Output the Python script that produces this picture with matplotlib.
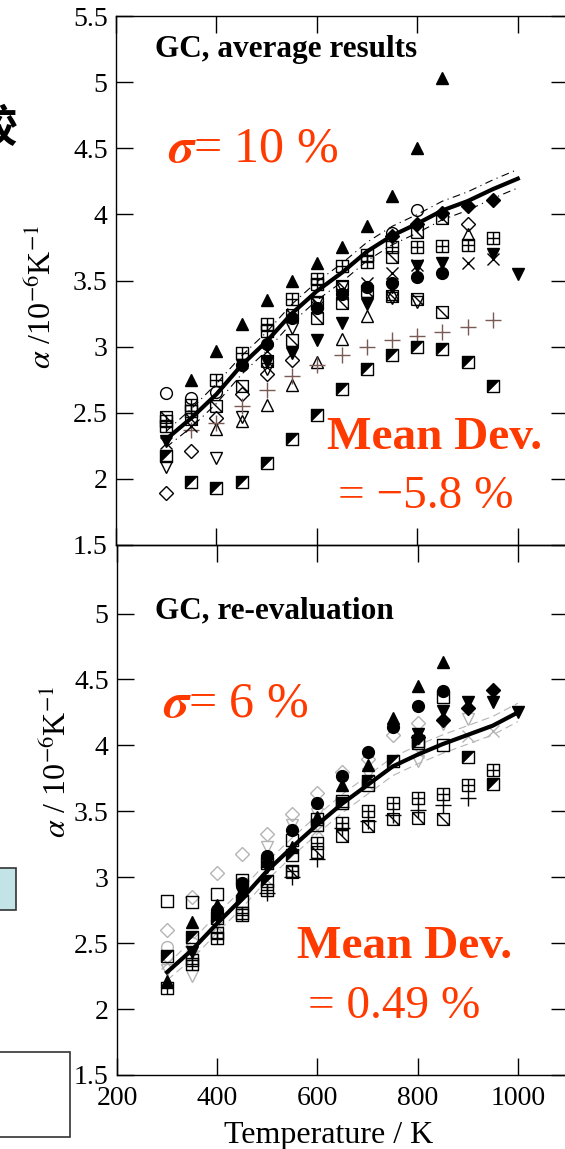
import numpy as np
import matplotlib
matplotlib.use('Agg')
import matplotlib.pyplot as plt
from matplotlib.path import Path
from matplotlib.patches import Rectangle

plt.rcParams['font.family'] = ['Liberation Serif', 'DejaVu Serif']
plt.rcParams['mathtext.fontset'] = 'stix'

RED = '#ff3a00'
BROWN = '#7a5a55'
GRAY = '#b4b4b4'

# ---------------- 上图：GC, average results ----------------
T_line = [300, 350, 400, 450, 500, 550, 600, 650, 700, 750, 800, 850, 900, 950, 1000]
a_line = [2.30, 2.46, 2.64, 2.86, 3.04, 3.25, 3.42, 3.56, 3.72, 3.84, 3.93, 4.03, 4.10, 4.19, 4.27]
a_upper = [2.36, 2.53, 2.72, 2.93, 3.11, 3.32, 3.49, 3.63, 3.79, 3.91, 4.00, 4.10, 4.17, 4.26, 4.34]
a_lower = [2.24, 2.39, 2.57, 2.79, 2.97, 3.18, 3.35, 3.49, 3.65, 3.77, 3.86, 3.96, 4.03, 4.12, 4.20]

a_tri_T = [350, 400, 450, 500, 550, 600, 650, 700, 750, 800, 850]
a_tri = [2.75, 2.97, 3.17, 3.35, 3.50, 3.63, 3.75, 3.91, 4.14, 4.50, 5.03]
a_tridn_T = [300, 450, 500, 550, 600, 650, 700, 750, 800, 850, 950, 1000]
a_tridn = [2.29, 2.86, 2.88, 2.95, 3.05, 3.18, 3.32, 3.45, 3.61, 3.63, 3.70, 3.55]
a_circ_T = [450, 500, 550, 600, 650, 700, 750, 800, 850]
a_circ = [2.86, 3.02, 3.22, 3.29, 3.40, 3.45, 3.48, 3.53, 3.56]
a_ocirc_T = [300, 350, 400, 750, 800]
a_ocirc = [2.65, 2.61, 2.66, 3.86, 4.03]
a_dia_T = [750, 800, 850, 900, 950]
a_dia = [3.84, 3.93, 4.01, 4.06, 4.11]
a_odia_T = [300, 350, 400, 450, 500, 550, 900]
a_odia = [1.89, 2.21, 2.46, 2.64, 2.79, 2.90, 3.93]
a_sqc_T = [300, 350, 400, 450, 500, 550, 600, 650, 700, 750, 800, 850, 900, 950]
a_sqc = [2.40, 2.56, 2.75, 2.95, 3.17, 3.36, 3.51, 3.61, 3.69, 3.75, 3.75, 3.76, 3.77, 3.82]
a_sqc2_T = [300, 350, 500, 600, 700]
a_sqc2 = [2.44, 2.51, 3.12, 3.47, 3.64]
a_sqd_T = [300, 350, 400, 450, 500, 550, 600, 650, 700, 750, 800, 850]
a_sqd = [2.47, 2.45, 2.55, 2.70, 2.89, 3.05, 3.22, 3.33, 3.42, 3.38, 3.36, 3.26]
a_sqd2_T = [550, 600, 650, 750, 800, 850]
a_sqd2 = [3.24, 3.33, 3.46, 3.68, 3.87, 3.97]
a_otdn_T = [300, 400, 450, 500, 550, 600, 650, 750, 800]
a_otdn = [2.09, 2.16, 2.47, 2.83, 3.14, 3.34, 3.45, 3.37, 3.34]
a_otri_T = [400, 450, 500, 550, 600, 650, 700, 750, 900]
a_otri = [2.38, 2.44, 2.56, 2.71, 2.88, 3.06, 3.23, 3.40, 3.85]
a_plus_T = [350, 400, 450, 500, 550, 600, 650, 700, 750, 800, 850, 900, 950]
a_plus = [2.37, 2.42, 2.55, 2.67, 2.78, 2.86, 2.94, 3.00, 3.05, 3.08, 3.11, 3.15, 3.20]
a_x_T = [300, 350, 500, 600, 650, 700, 750, 800, 900, 950]
a_x = [2.27, 2.40, 2.97, 3.30, 3.40, 3.48, 3.56, 3.62, 3.63, 3.66]
a_half_T = [300, 350, 400, 450, 500, 550, 600, 650, 700, 750, 800, 850, 900, 950]
a_half = [2.17, 1.98, 1.93, 1.98, 2.12, 2.30, 2.48, 2.68, 2.83, 2.94, 3.00, 2.98, 2.88, 2.70]

# ---------------- 下图：GC, re-evaluation ----------------
b_line = [2.28, 2.45, 2.65, 2.84, 3.05, 3.23, 3.40, 3.56, 3.70, 3.84, 3.93, 4.01, 4.08, 4.15, 4.25]
b_upper = [2.34, 2.52, 2.72, 2.91, 3.12, 3.30, 3.47, 3.63, 3.77, 3.91, 4.00, 4.08, 4.15, 4.22, 4.32]
b_lower = [2.22, 2.38, 2.58, 2.77, 2.98, 3.16, 3.33, 3.49, 3.63, 3.77, 3.86, 3.94, 4.01, 4.08, 4.18]

b_tri_T = [300, 350, 400, 450, 500, 550, 600, 650, 700, 750, 800, 850]
b_tri = [2.21, 2.66, 2.79, 2.90, 3.12, 3.23, 3.46, 3.70, 3.85, 4.21, 4.45, 4.63]
b_circ_T = [400, 450, 500, 550, 600, 650, 700, 750, 800, 850]
b_circ = [2.75, 2.96, 3.16, 3.36, 3.56, 3.77, 3.95, 4.14, 4.30, 4.41]
b_tridn_T = [350, 400, 450, 500, 800, 850, 900, 950, 1000]
b_tridn = [2.43, 2.70, 2.88, 3.08, 4.09, 4.26, 4.33, 4.33, 4.25]
b_dia_T = [800, 850, 900, 950]
b_dia = [4.06, 4.19, 4.28, 4.42]
b_half_T = [300, 350, 400, 450, 500, 550, 600, 650, 700, 750, 800, 900, 950]
b_half = [2.40, 2.55, 2.69, 2.82, 2.97, 3.17, 3.40, 3.56, 3.73, 3.88, 4.02, 3.91, 3.71]
b_sq_T = [300, 350, 400, 450, 500, 550, 600, 650, 700, 800, 850, 850]
b_sq = [2.82, 2.81, 2.87, 2.98, 3.11, 3.28, 3.44, 3.58, 3.70, 4.03, 4.00, 4.37]
b_sqc_T = [300, 350, 400, 450, 500, 550, 600, 650, 700, 750, 800, 850, 900, 950]
b_sqc = [2.16, 2.34, 2.54, 2.73, 2.90, 3.05, 3.26, 3.41, 3.50, 3.56, 3.60, 3.63, 3.70, 3.81]
b_sqc2_T = [350, 400, 450]
b_sqc2 = [2.37, 2.58, 2.71]
b_sqd_T = [550, 600, 650, 700, 750, 800, 850]
b_sqd = [3.04, 3.19, 3.31, 3.39, 3.44, 3.45, 3.44]
b_plus_T = [500, 550, 600, 650, 700, 750, 800, 850, 900]
b_plus = [2.88, 3.00, 3.14, 3.37, 3.43, 3.47, 3.51, 3.55, 3.60]
b_gdia_T = [300, 350, 400, 450, 500, 550, 600, 650, 700, 750, 800]
b_gdia = [2.60, 2.85, 3.03, 3.18, 3.33, 3.48, 3.64, 3.80, 3.90, 4.08, 4.17]
b_gtdn_T = [300, 350, 450, 500, 550, 600, 700, 800, 850, 900]
b_gtdn = [2.30, 2.25, 2.95, 3.23, 3.40, 3.48, 3.78, 3.88, 4.16, 4.20]
b_gx_T = [300, 350, 400, 500, 600, 700, 800, 900, 950]
b_gx = [2.35, 2.40, 2.62, 2.98, 3.36, 3.70, 3.95, 4.07, 4.11]
b_gcirc_T = [300, 350]
b_gcirc = [2.47, 2.50]

y_ticks = [1.5, 2, 2.5, 3, 3.5, 4, 4.5, 5, 5.5]
x_ticks = [200, 400, 600, 800, 1000]


# 自定义方块符号
def square_with(segs):
    verts = [(-1, -1), (1, -1), (1, 1), (-1, 1), (-1, -1)]
    codes = [Path.MOVETO] + [Path.LINETO] * 4
    for a, b in segs:
        verts += [a, b]
        codes += [Path.MOVETO, Path.LINETO]
    return Path(verts, codes)


SQ_CROSS = square_with([((0, -1), (0, 1)), ((-1, 0), (1, 0))])
SQ_DIAG = square_with([((-1, 1), (1, -1))])
SQ_OPEN = square_with([])
HALF_TRI = Path([(-1, 1), (1, 1), (-1, -1), (-1, 1)],
                [Path.MOVETO, Path.LINETO, Path.LINETO, Path.CLOSEPOLY])

MS = 8.5
MEW = 1.0


def pts(ax, T, v, marker, filled=False, color='black', ms=MS, z=3):
    ax.plot(T, v, ls='none', marker=marker, ms=ms,
            mfc=color if filled else 'none', mec=color, mew=MEW, zorder=z)


def half_sq(ax, T, v):
    ax.plot(T, v, ls='none', marker=HALF_TRI, ms=MS, mfc='black', mec='black', mew=0.3, zorder=3)
    ax.plot(T, v, ls='none', marker=SQ_OPEN, ms=MS, mfc='none', mec='black', mew=MEW, zorder=3)


def style_axes(ax):
    ax.set_xlim(200, 1100)
    ax.set_xticks(x_ticks)
    ax.set_yticks(y_ticks)
    ax.tick_params(direction='in', length=12, width=1.0, labelsize=20,
                   top=True, right=True, pad=6)
    for s in ax.spines.values():
        s.set_linewidth(1.0)
    ax.set_facecolor('none')


fig = plt.figure(figsize=(5.65, 11.49), dpi=100)
W, H = 565, 1149


def fx(x):
    return x / W


def fy(y):
    return 1 - y / H


ax1 = fig.add_axes([fx(116), fy(545), (568 - 116) / W, 529 / H])
ax2 = fig.add_axes([fx(117), fy(1075), (568 - 117) / W, 530 / H])

# 上图
ax = ax1
ax.plot(T_line, a_upper, color='black', lw=0.8, ls=(0, (7, 4, 1, 4)), zorder=2)
ax.plot(T_line, a_lower, color='black', lw=0.8, ls=(0, (7, 4, 1, 4)), zorder=2)
ax.plot(T_line, a_line, color='black', lw=3.0, zorder=4)
pts(ax, a_tri_T, a_tri, '^', True)
pts(ax, a_tridn_T, a_tridn, 'v', True)
pts(ax, a_circ_T, a_circ, 'o', True)
pts(ax, a_ocirc_T, a_ocirc, 'o')
pts(ax, a_dia_T, a_dia, 'D', True, ms=7)
pts(ax, a_odia_T, a_odia, 'D', ms=7)
pts(ax, a_sqc_T, a_sqc, SQ_CROSS)
pts(ax, a_sqc2_T, a_sqc2, SQ_CROSS)
pts(ax, a_sqd_T, a_sqd, SQ_DIAG)
pts(ax, a_sqd2_T, a_sqd2, SQ_DIAG)
pts(ax, a_otdn_T, a_otdn, 'v')
pts(ax, a_otri_T, a_otri, '^')
pts(ax, a_plus_T, a_plus, '+', color=BROWN, ms=11)
pts(ax, a_x_T, a_x, 'x', ms=9)
half_sq(ax, a_half_T, a_half)
style_axes(ax)
ax.set_ylim(1.5, 5.5)
ax.set_yticklabels(['1.5', '2', '2.5', '3', '3.5', '4', '4.5', '5', '5.5'])
ax.tick_params(labelbottom=False)

# 下图
ax = ax2
ax.plot(T_line, b_upper, color=GRAY, lw=0.8, ls=(0, (7, 4)), zorder=2)
ax.plot(T_line, b_lower, color=GRAY, lw=0.8, ls=(0, (7, 4)), zorder=2)
pts(ax, b_gdia_T, b_gdia, 'D', color=GRAY, ms=7)
pts(ax, b_gtdn_T, b_gtdn, 'v', color=GRAY)
pts(ax, b_gx_T, b_gx, 'x', color=GRAY, ms=9)
pts(ax, b_gcirc_T, b_gcirc, 'o', color=GRAY)
ax.plot(T_line, b_line, color='black', lw=3.0, zorder=4)
pts(ax, b_tri_T, b_tri, '^', True)
pts(ax, b_circ_T, b_circ, 'o', True)
pts(ax, b_tridn_T, b_tridn, 'v', True, z=5)
pts(ax, b_dia_T, b_dia, 'D', True, ms=7)
half_sq(ax, b_half_T, b_half)
pts(ax, b_sq_T, b_sq, SQ_OPEN)
pts(ax, b_sqc_T, b_sqc, SQ_CROSS)
pts(ax, b_sqc2_T, b_sqc2, SQ_CROSS)
pts(ax, b_sqd_T, b_sqd, SQ_DIAG)
pts(ax, b_plus_T, b_plus, '+', ms=11)
style_axes(ax)
ax.set_ylim(1.5, 5.52)
ax.set_yticks(y_ticks[:-1])
ax.set_yticklabels(['1.5', '2', '2.5', '3', '3.5', '4', '4.5', '5'])
ax.set_xticklabels(['200', '400', '600', '800', '1000'])
ax.tick_params(axis='x', pad=8)
fig.text(fx(329), fy(1143), 'Temperature / K', fontsize=23, ha='center', va='baseline')

# 标注文字
fig.text(fx(155), fy(57), 'GC, average results', fontsize=22.5, fontweight='bold', va='baseline')
fig.text(fx(168), fy(162), r'$\boldsymbol{\sigma}$= 10 %', fontsize=36, color=RED, va='baseline')
fig.text(fx(327), fy(449), 'Mean Dev.', fontsize=34, color=RED, fontweight='bold', va='baseline')
fig.text(fx(338), fy(508), '= \u22125.8 %', fontsize=34, color=RED, va='baseline')

fig.text(fx(155), fy(618), 'GC, re-evaluation', fontsize=22.5, fontweight='bold', va='baseline')
fig.text(fx(163), fy(717), r'$\boldsymbol{\sigma}$= 6 %', fontsize=36, color=RED, va='baseline')
fig.text(fx(297), fy(958), 'Mean Dev.', fontsize=34, color=RED, fontweight='bold', va='baseline')
fig.text(fx(308), fy(1018), '= 0.49 %', fontsize=34, color=RED, va='baseline')

fig.text(fx(42), fy(297), r'$\alpha$ /10$^{-6}$K$^{-1}$', fontsize=23, rotation=90, ha='center', va='center')
fig.text(fx(57), fy(762), r'$\alpha$ / 10$^{-6}$K$^{-1}$', fontsize=23, rotation=90, ha='center', va='center')

# 左侧被裁掉的其他元素
fig.text(fx(17), fy(129), '较', fontsize=32, fontweight='bold', ha='right', va='center',
         family=['Noto Sans CJK SC', 'DejaVu Sans'])
fig.patches.append(Rectangle((fx(-20), fy(910)), 36 / W, 42 / H, transform=fig.transFigure,
                             facecolor='#c2e4e6', edgecolor='#333333', lw=1.2))
fig.patches.append(Rectangle((fx(-20), fy(1137)), 90 / W, 85 / H, transform=fig.transFigure,
                             facecolor='white', edgecolor='#333333', lw=1.2))

fig.savefig('out.png', dpi=100)
